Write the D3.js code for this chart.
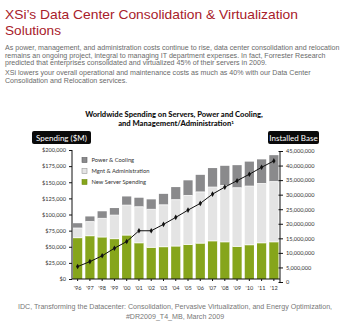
<!DOCTYPE html>
<html>
<head>
<meta charset="utf-8">
<script src="https://cdn.jsdelivr.net/npm/d3@7"></script>
<style>
  html, body { margin: 0; padding: 0; background: #fff; }
  svg { display: block; }
</style>
</head>
<body>
<div id="chart"></div>
<script>
// Spending in $M, installed base in millions of servers
const years = ["'96", "'97", "'98", "'99", "'00", "'01", "'02", "'03", "'04", "'05", "'06", "'07", "'08", "'09", "'10", "'11", "'12"];
const newServer = [64000, 67000, 65000, 62500, 68000, 56000, 49000, 50000, 51000, 53500, 55500, 59000, 57500, 50500, 53000, 56000, 57500];
const mgmtAdmin = [15000, 22000, 29000, 36500, 46500, 56000, 59000, 65000, 72000, 76000, 79500, 83500, 87500, 91000, 91000, 92000, 93500];
const powerCooling = [7500, 8000, 11000, 11000, 13500, 14000, 15500, 17000, 19500, 23500, 26500, 29500, 30500, 35000, 38000, 37500, 41000];
const installedBase = [5.3, 7.0, 9.0, 11.6, 13.9, 17.6, 17.6, 19.8, 22.2, 24.7, 27.0, 30.2, 32.6, 34.8, 37.0, 39.4, 41.6];

const spendTicks = [0, 25000, 50000, 75000, 100000, 125000, 150000, 175000, 200000];
const baseTicks = [0, 5, 10, 15, 20, 25, 30, 35, 40, 45];

const legendItems = [
  { key: "power", label: "Power & Cooling" },
  { key: "mgmt", label: "Mgnt & Administration" },
  { key: "server", label: "New Server Spending" }
];
const colors = { server: "#86a51b", mgmt: "#e4e4e4", power: "#8a8a8c" };
const strokes = { server: "#6f8a12", mgmt: "#9a9a9a", power: "#5c5c5e" };

const W = 350, H = 330;
const svg = d3.select("#chart").append("svg").attr("width", W).attr("height", H);

// page heading
const heading = svg.append("g")
  .attr("fill", "#a8202a")
  .style("font-family", "'Liberation Sans', Arial, sans-serif")
  .style("font-size", "13.4px");
heading.append("text").attr("x", 5).attr("y", 19)
  .attr("textLength", 293).attr("lengthAdjust", "spacingAndGlyphs")
  .text("XSi\u2019s Data Center Consolidation & Virtualization");
heading.append("text").attr("x", 5).attr("y", 34.5)
  .attr("textLength", 56).attr("lengthAdjust", "spacingAndGlyphs")
  .text("Solutions");

const para = [
  ["As power, management, and administration costs continue to rise, data center consolidation and relocation", 50],
  ["remains an ongoing project, integral to managing IT department expenses. In fact, Forrester Research", 57.5],
  ["predicted that enterprises consolidated and virtualized 45% of their servers in 2009.", 65],
  ["XSi lowers your overall operational and maintenance costs as much as 40% with our Data Center", 75.2],
  ["Consolidation and Relocation services.", 82.7]
];
svg.append("g").selectAll("text").data(para).join("text")
  .attr("x", 5).attr("y", d => d[1])
  .attr("fill", "#6a6a6a")
  .style("font-family", "'Liberation Sans', Arial, sans-serif")
  .style("font-size", "7.1px")
  .text(d => d[0]);

// chart title
const ctitle = svg.append("text")
  .attr("text-anchor", "middle")
  .attr("fill", "#111")
  .style("font-family", "Lato, sans-serif")
  .style("font-weight", 900)
  .style("font-size", "7.6px");
ctitle.append("tspan").attr("x", 174).attr("y", 117).text("Worldwide Spending on Servers, Power and Cooling,");
ctitle.append("tspan").attr("x", 176).attr("y", 126).text("and Management/Administration");
ctitle.append("tspan").attr("dy", -2.5).style("font-size", "4.5px").text("1");

// scales
const x = d3.scaleBand().domain(years).range([71.5, 280]).paddingInner(0.25).paddingOuter(0.125);
const yL = d3.scaleLinear().domain([0, 200000]).range([279, 150]);
const yR = d3.scaleLinear().domain([0, 45]).range([282, 151]);

const table = years.map((yr, i) => ({ year: yr, server: newServer[i], mgmt: mgmtAdmin[i], power: powerCooling[i] }));
const stack = d3.stack().keys(["server", "mgmt", "power"])(table);

svg.append("g").selectAll("g").data(stack).join("g")
  .attr("fill", d => colors[d.key])
  .selectAll("rect").data(d => d).join("rect")
  .attr("x", d => x(d.data.year))
  .attr("width", x.bandwidth())
  .attr("y", d => yL(d[1]))
  .attr("height", d => yL(d[0]) - yL(d[1]));

// white seams between stacked segments
svg.append("g").selectAll("g").data(stack.slice(0, 2)).join("g")
  .selectAll("line").data(d => d).join("line")
  .attr("x1", d => x(d.data.year)).attr("x2", d => x(d.data.year) + x.bandwidth())
  .attr("y1", d => yL(d[1])).attr("y2", d => yL(d[1]))
  .attr("stroke", "#fff").attr("stroke-width", 0.8);

// axes
const axisFont = g => g.selectAll("text")
  .style("font-family", "Lato, sans-serif")
  .style("font-size", "5.6px")
  .attr("fill", "#333");

svg.append("g")
  .attr("transform", "translate(72,0)")
  .call(d3.axisLeft(yL).tickValues(spendTicks).tickSize(3).tickPadding(3)
    .tickFormat(d => "$" + d3.format(",")(d)))
  .call(g => g.select(".domain").attr("stroke", "#111").attr("d", "M0,150V279"))
  .call(g => g.selectAll(".tick line").attr("stroke", "#111"))
  .call(axisFont);

svg.append("g")
  .attr("transform", "translate(280,0)")
  .call(d3.axisRight(yR).tickValues(baseTicks).tickSize(3).tickPadding(3)
    .tickFormat(d => d3.format(",")(d * 1000000)))
  .call(g => g.select(".domain").attr("stroke", "#111").attr("d", "M0,151V283"))
  .call(g => g.selectAll(".tick line").attr("stroke", "#111").attr("x1", -1.5))
  .call(axisFont);

svg.append("g")
  .attr("transform", "translate(0,279)")
  .call(d3.axisBottom(x).tickSize(2).tickPadding(5))
  .call(g => g.select(".domain").attr("stroke", "#111").attr("d", "M72,0H280"))
  .call(g => g.selectAll(".tick line").attr("stroke", "#111"))
  .call(axisFont);

// installed base line
const line = d3.line().x((d, i) => x(years[i]) + x.bandwidth() / 2).y(d => yR(d));
svg.append("path").datum(installedBase)
  .attr("d", line).attr("fill", "none").attr("stroke", "#111").attr("stroke-width", 1);
svg.append("g").selectAll("path").data(installedBase).join("path")
  .attr("d", d3.symbol(d3.symbolDiamond, 9))
  .attr("transform", (d, i) => `translate(${x(years[i]) + x.bandwidth() / 2},${yR(d)})`)
  .attr("fill", "#111");

// axis caption boxes
const boxes = [
  { label: "Spending ($M)", x: 32, w: 59 },
  { label: "Installed Base", x: 268, w: 51 }
];
const bx = svg.append("g").selectAll("g").data(boxes).join("g")
  .attr("transform", d => `translate(${d.x},131)`);
bx.append("rect").attr("width", d => d.w).attr("height", 13).attr("rx", 2).attr("fill", "#0a0a0a");
bx.append("text")
  .attr("x", d => d.w / 2).attr("y", 9.6).attr("text-anchor", "middle")
  .attr("fill", "#fff")
  .style("font-family", "Lato, sans-serif").style("font-size", "8px")
  .text(d => d.label);

// legend
const lg = svg.append("g").selectAll("g").data(legendItems).join("g")
  .attr("transform", (d, i) => `translate(82,${157.5 + i * 11})`);
lg.append("rect").attr("width", 5).attr("height", 5)
  .attr("fill", d => colors[d.key]).attr("stroke", d => strokes[d.key]).attr("stroke-width", 0.6);
lg.append("text").attr("x", 9.5).attr("y", 4.6)
  .attr("fill", "#333")
  .style("font-family", "Lato, sans-serif").style("font-size", "5.8px")
  .text(d => d.label);

// source note
const src = svg.append("text").attr("text-anchor", "middle").attr("fill", "#777")
  .style("font-family", "'Liberation Sans', Arial, sans-serif").style("font-size", "7.1px");
src.append("tspan").attr("x", 175).attr("y", 309).text("IDC, Transforming the Datacenter: Consolidation, Pervasive Virtualization, and Energy Optimization,");
src.append("tspan").attr("x", 175).attr("y", 319).text("#DR2009_T4_MB, March 2009");
</script>
</body>
</html>
